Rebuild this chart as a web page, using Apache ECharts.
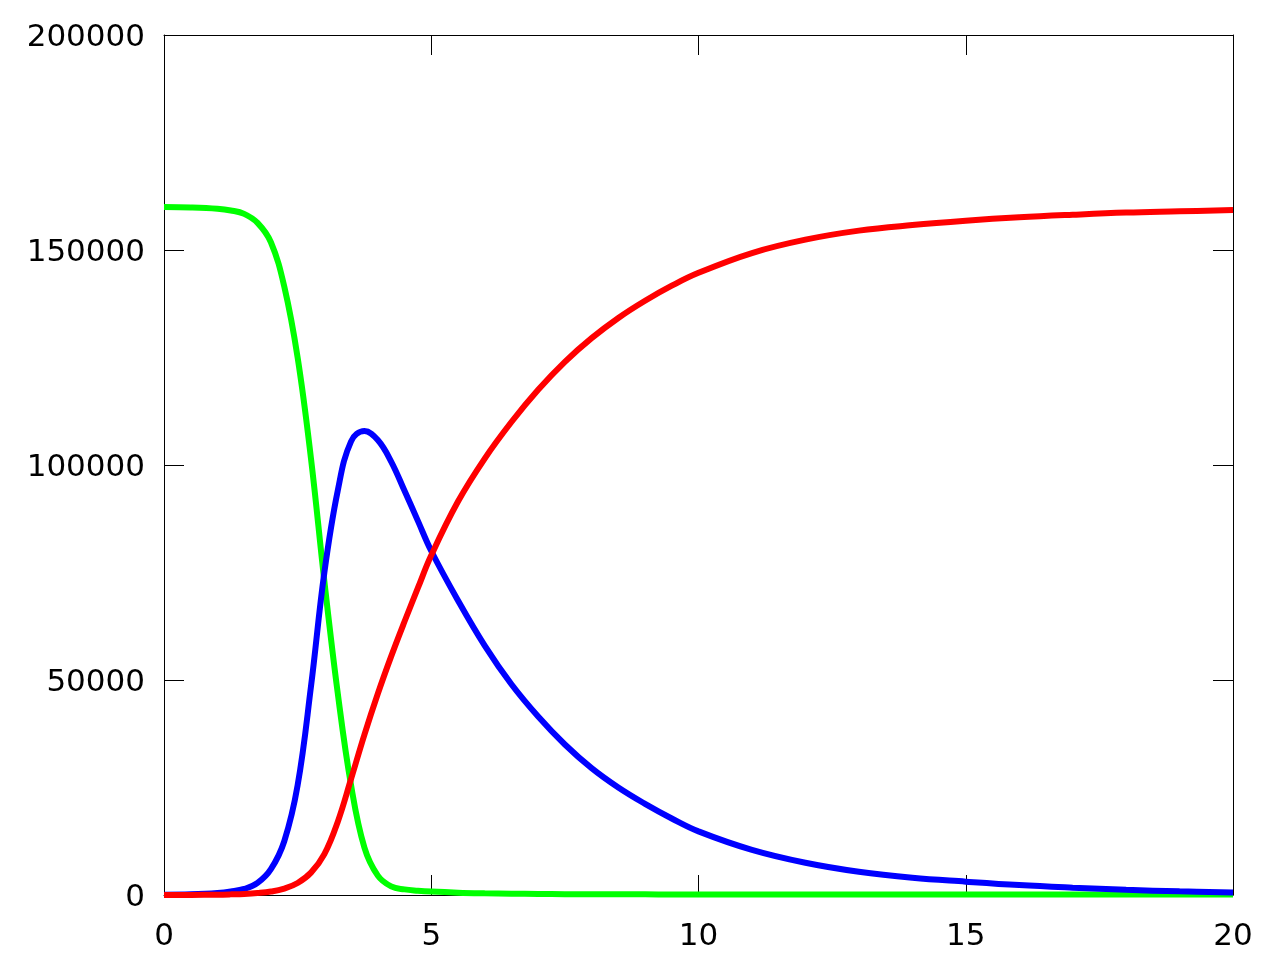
<!DOCTYPE html>
<html>
<head>
<meta charset="utf-8">
<title>SIR</title>
<script src="https://cdn.jsdelivr.net/npm/echarts@6/dist/echarts.min.js"></script>
<style>
  html, body { margin: 0; padding: 0; background: #fff; }
  #chart { width: 1286px; height: 963px; }
</style>
</head>
<body>
<div id="chart"></div>
<script>
// time points (x) and values, in thousands
const times = [0, 0.5, 1, 1.25, 1.5, 1.75, 2, 2.25, 2.5, 2.75, 3, 3.25, 3.5, 3.75, 4, 4.25, 4.5, 4.75, 5,
  5.5, 6, 6.5, 7, 7.5, 8, 8.5, 9, 9.5, 10, 11, 12, 13, 14, 15, 16, 17, 18, 19, 20];

const susceptible = [160.0, 159.9, 159.6, 159.2, 158.4, 156.3, 151.8, 141.5, 125, 101.5, 73, 47, 25.5, 11, 4.5, 2.0, 1.3, 1.0, 0.8,
  0.55, 0.4, 0.3, 0.25, 0.2, 0.18, 0.16, 0.15, 0.14, 0.13, 0.12, 0.11, 0.1, 0.1, 0.1, 0.1, 0.1, 0.1, 0.1, 0.1];

const infected = [0.05, 0.15, 0.45, 0.8, 1.4, 2.8, 6.0, 12.5, 25.5, 48.5, 75, 94, 105.5, 107.9, 105.8, 100.8, 94, 87, 80,
  68.5, 58, 49, 41.5, 35, 29.5, 25, 21.2, 17.8, 14.8, 10.5, 7.5, 5.4, 4.0, 3.1, 2.3, 1.7, 1.2, 0.85, 0.6];

const recovered = [0, 0.02, 0.08, 0.15, 0.25, 0.45, 0.8, 1.5, 2.8, 5.2, 9.5, 17, 27, 37.3, 46.8, 55.5, 63.6, 71.4, 79,
  91.5, 101.5, 110, 117.5, 124, 129.5, 134.2, 138.2, 141.7, 144.7, 149.3, 152.4, 154.5, 155.8, 156.8, 157.6, 158.2, 158.7, 159.0, 159.3];

const xTicks = [0, 5, 10, 15, 20];
const yTicks = [0, 50000, 100000, 150000, 200000];

const toPoints = vals => vals.map((v, i) => [times[i], v * 1000]);

const chart = echarts.init(document.getElementById('chart'));

const font = { fontFamily: 'DejaVu Sans', fontSize: 31, color: '#000' };
const axisLine = { show: true, onZero: false, lineStyle: { color: '#000', width: 1 } };
const tick = { show: true, inside: true, length: 20, lineStyle: { color: '#000', width: 1 } };

const xBase = { type: 'value', min: xTicks[0], max: xTicks[xTicks.length - 1], interval: 5, splitLine: { show: false }, axisLine: axisLine, axisTick: tick };
const yBase = { type: 'value', min: yTicks[0], max: yTicks[yTicks.length - 1], interval: 50000, splitLine: { show: false }, axisLine: axisLine, axisTick: tick };

function line(name, vals, color) {
  return {
    name: name,
    type: 'line',
    data: toPoints(vals),
    showSymbol: false,
    smooth: 0.4,
    lineStyle: { color: color, width: 6 },
    itemStyle: { color: color },
    animation: false
  };
}

chart.setOption({
  backgroundColor: '#fff',
  animation: false,
  grid: { left: 164, right: 53, top: 35, bottom: 68 },
  xAxis: [
    Object.assign({}, xBase, { position: 'bottom', axisLabel: Object.assign({ margin: 26, showMinLabel: true, showMaxLabel: true, formatter: v => String(v) }, font) }),
    Object.assign({}, xBase, { position: 'top', axisLabel: { show: false } })
  ],
  yAxis: [
    Object.assign({}, yBase, { position: 'left', axisLabel: Object.assign({ margin: 19, verticalAlign: 'top', lineHeight: 6, showMinLabel: true, showMaxLabel: true, formatter: v => String(v) }, font) }),
    Object.assign({}, yBase, { position: 'right', axisLabel: { show: false } })
  ],
  series: [
    line('S', susceptible, '#00ff00'),
    line('I', infected, '#0000ff'),
    line('R', recovered, '#ff0000')
  ]
});
</script>
</body>
</html>
